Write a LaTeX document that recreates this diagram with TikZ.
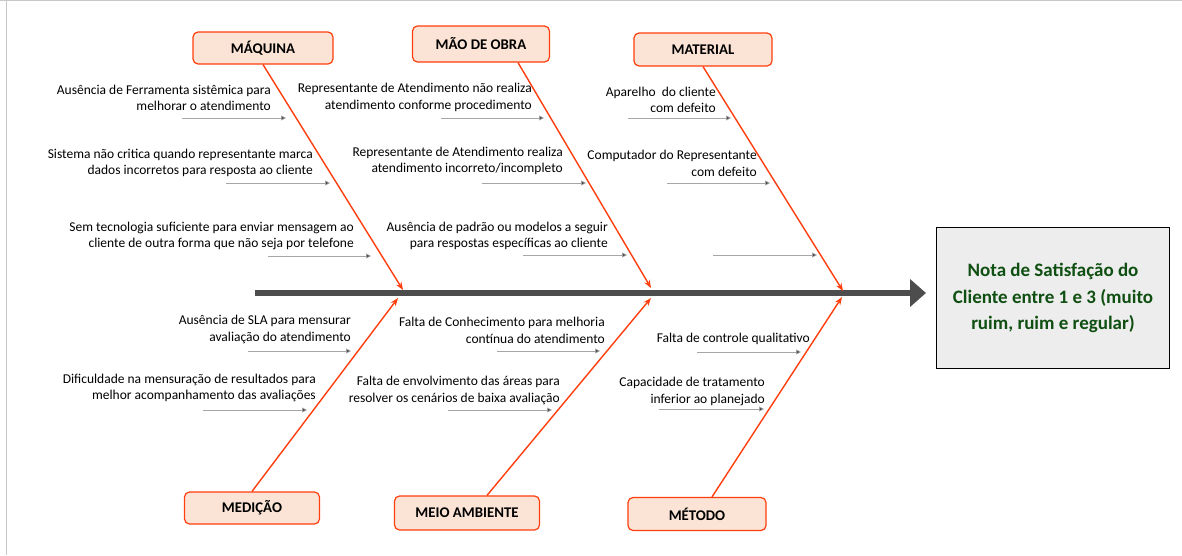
\documentclass[tikz,border=0pt]{standalone}
\usepackage{fontspec}
\setmainfont{Carlito}
\usetikzlibrary{arrows.meta,positioning}
\definecolor{bonered}{HTML}{FF3D0D}
\definecolor{catfill}{HTML}{FBE4D5}
\definecolor{spinegray}{HTML}{4D4D4D}
\definecolor{notegreen}{HTML}{0F4F12}
\definecolor{notefill}{HTML}{EDEDED}
\definecolor{framegray}{HTML}{C8C8C8}
\tikzset{
    catbox/.style={draw=bonered, fill=catfill, line width=1.2pt, rounded corners=5pt,
        minimum width=138pt, minimum height=33pt, font=\fontsize{14.8}{17}\selectfont\bfseries},
    bone/.style={draw=bonered, line width=1.4pt, -{Stealth[length=8pt,width=6pt]}},
    cause/.style={align=right, inner sep=0pt, font=\fontsize{13.5}{16.5}\selectfont},
    causearrow/.style={draw=gray!70, line width=0.6pt, -{Triangle[length=5pt,width=5pt,fill=black!70]}},
    spine/.style={draw=spinegray, line width=6pt, -{Triangle[length=16pt,width=27pt]}},
    effect/.style={draw=black, line width=1.6pt, fill=notefill, minimum width=233pt,
        minimum height=141pt, align=center, text=notegreen,
        font=\fontsize{19}{26.5}\selectfont\bfseries}
}
\begin{document}
\begin{tikzpicture}[x=1pt,y=-1pt]
    \useasboundingbox (0,0) rectangle (1182,555);
    % frame
    \draw[framegray, line width=1.2pt] (0,0.6) -- (1182,0.6);
    \draw[framegray, line width=1.5pt] (6.5,0) -- (6.5,555);

    % effect and spine
    \node[effect] (nota) at (1053,298) {Nota de Satisfação do\\Cliente entre 1 e 3 (muito\\ruim, ruim e regular)};
    \coordinate (spstart) at (255,293);
    \coordinate (sptip) at (926,293);
    \draw[spine] (spstart) -- (sptip);

    % categories
    \node[catbox, minimum width=140pt, minimum height=32pt] (maq) at (263,48) {MÁQUINA};
    \node[catbox, minimum width=137pt, minimum height=36pt] (mao) at (481,44) {MÃO DE OBRA};
    \node[catbox] (mat) at (703,49.5) {MATERIAL};
    \node[catbox, minimum width=135pt, minimum height=32pt] (med) at (252,508) {MEDIÇÃO};
    \node[catbox, minimum width=145pt, minimum height=34pt] (mei) at (467,513) {MEIO AMBIENTE};
    \node[catbox, minimum width=138pt, minimum height=33pt] (met) at (697,514) {MÉTODO};

    % bones
    \coordinate (tmaq) at (403,290);
    \coordinate (tmao) at (651,288);
    \coordinate (tmat) at (843,291);
    \coordinate (tmed) at (398,298);
    \coordinate (tmei) at (651,298);
    \coordinate (tmet) at (842,297);
    \draw[bone] (maq.south) -- (tmaq);
    \draw[bone] ([xshift=37pt]mao.south) -- (tmao);
    \draw[bone] (mat.south) -- (tmat);
    \draw[bone] (med.north) -- (tmed);
    \draw[bone] ([xshift=20pt]mei.north) -- (tmei);
    \draw[bone] ([xshift=15pt]met.north) -- (tmet);

    % cause arrows
    \foreach \n/\xa/\xb/\y in {1/182/286/118, 2/226/330/183, 3/268/371/256,
                               4/441/544/118, 5/482/586/183, 6/523/627/255,
                               7/628/731/118, 8/667/770/183, 9/713/817/255,
                               10/248/351/351, 11/203/307/410,
                               12/497/600/351, 13/448/552/410,
                               14/697/801/352, 15/659/764/409}
    {
        \coordinate (s\n) at (\xa,\y);
        \coordinate (e\n) at (\xb,\y);
        \draw[causearrow] (s\n) -- (e\n);
    }

    % cause texts
    \node[cause, anchor=east] (c1) at (271,98) {Ausência de Ferramenta sistêmica para\\melhorar o atendimento};
    \node[cause, anchor=east] (c2) at (313,163) {Sistema não critica quando representante marca\\dados incorretos para resposta ao cliente};
    \node[cause, anchor=east] (c3) at (354,236) {Sem tecnologia suficiente para enviar mensagem ao\\cliente de outra forma que não seja por telefone};
    \node[cause, anchor=east] (c4) at (532,97.5) {Representante de Atendimento não realiza\\atendimento conforme procedimento};
    \node[cause, anchor=east] (c5) at (563,161) {Representante de Atendimento realiza\\atendimento incorreto/incompleto};
    \node[cause, anchor=east] (c6) at (608,236) {Ausência de padrão ou modelos a seguir\\para respostas específicas ao cliente};
    \node[cause, anchor=east] (c7) at (716,100) {Aparelho\ \ do cliente\\com defeito};
    \node[cause, anchor=east] (c8) at (757,163.5) {Computador do Representante\\com defeito};
    \node[cause, anchor=east] (c9) at (351,329.5) {Ausência de SLA para mensurar\\avaliação do atendimento};
    \node[cause, anchor=east] (c10) at (316,388) {Dificuldade na mensuração de resultados para\\melhor acompanhamento das avaliações};
    \node[cause, anchor=east] (c11) at (605,330.5) {Falta de Conhecimento para melhoria\\contínua do atendimento};
    \node[cause, anchor=east] (c12) at (560,390.5) {Falta de envolvimento das áreas para\\resolver os cenários de baixa avaliação};
    \node[cause, anchor=east] (c13) at (810,339) {Falta de controle qualitativo};
    \node[cause, anchor=east] (c14) at (765,391.5) {Capacidade de tratamento\\inferior ao planejado};
\end{tikzpicture}
\end{document}
